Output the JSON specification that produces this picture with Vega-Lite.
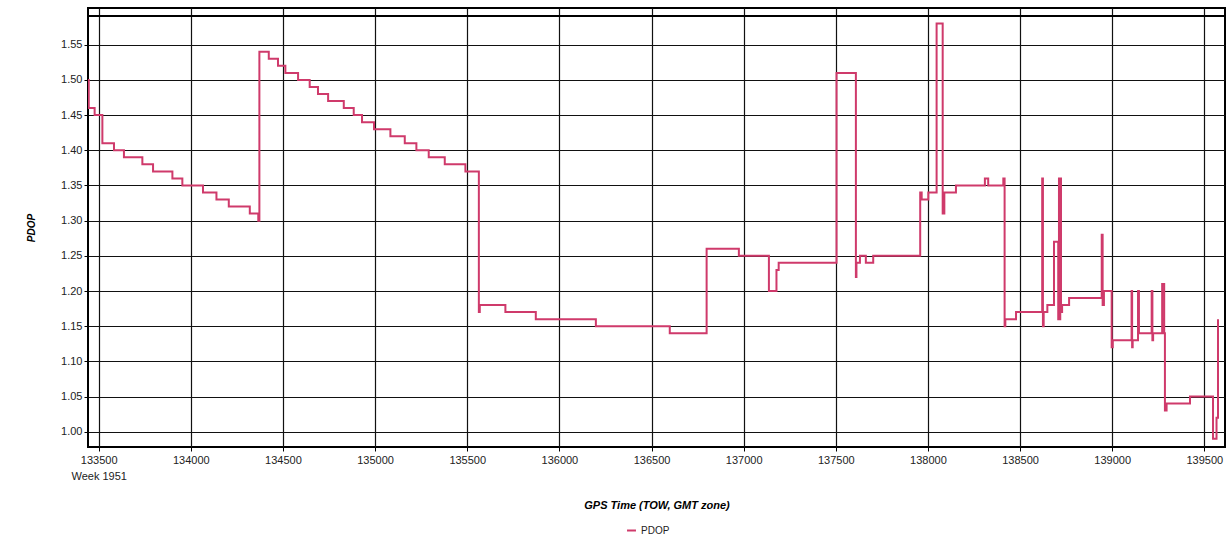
{
  "$schema": "https://vega.github.io/schema/vega-lite/v6.json",
  "width": 1137,
  "height": 439,
  "autosize": {"type": "none"},
  "padding": {"left": 88, "top": 8, "right": 7, "bottom": 95},
  "background": "white",
  "config": {
    "view": {"stroke": "#000", "strokeWidth": 2},
    "font": "Liberation Sans",
    "axisY": {
      "format": ".2f",
      "labelFontSize": 11,
      "labelColor": "#222",
      "labelPadding": 2,
      "labelOverlap": false,
      "labelFlush": false,
      "tickSize": 4,
      "tickColor": "#000",
      "domain": false,
      "grid": true,
      "gridColor": "#111",
      "gridWidth": 1.2,
      "titleFontSize": 10,
      "titleFontStyle": "italic",
      "titleFontWeight": "bold",
      "titleColor": "#000",
      "titlePadding": 24
    }
  },
  "layer": [
    {
      "data": {
        "values": [
          {"t": 133442, "pdop": 1.50, "series": "PDOP"},
          {"t": 133446, "pdop": 1.46, "series": "PDOP"},
          {"t": 133478, "pdop": 1.45, "series": "PDOP"},
          {"t": 133520, "pdop": 1.41, "series": "PDOP"},
          {"t": 133583, "pdop": 1.40, "series": "PDOP"},
          {"t": 133637, "pdop": 1.39, "series": "PDOP"},
          {"t": 133737, "pdop": 1.38, "series": "PDOP"},
          {"t": 133795, "pdop": 1.37, "series": "PDOP"},
          {"t": 133900, "pdop": 1.36, "series": "PDOP"},
          {"t": 133954, "pdop": 1.35, "series": "PDOP"},
          {"t": 134066, "pdop": 1.34, "series": "PDOP"},
          {"t": 134139, "pdop": 1.33, "series": "PDOP"},
          {"t": 134206, "pdop": 1.32, "series": "PDOP"},
          {"t": 134320, "pdop": 1.31, "series": "PDOP"},
          {"t": 134366, "pdop": 1.30, "series": "PDOP"},
          {"t": 134372, "pdop": 1.54, "series": "PDOP"},
          {"t": 134423, "pdop": 1.53, "series": "PDOP"},
          {"t": 134473, "pdop": 1.52, "series": "PDOP"},
          {"t": 134513, "pdop": 1.51, "series": "PDOP"},
          {"t": 134582, "pdop": 1.50, "series": "PDOP"},
          {"t": 134645, "pdop": 1.49, "series": "PDOP"},
          {"t": 134690, "pdop": 1.48, "series": "PDOP"},
          {"t": 134745, "pdop": 1.47, "series": "PDOP"},
          {"t": 134830, "pdop": 1.46, "series": "PDOP"},
          {"t": 134884, "pdop": 1.45, "series": "PDOP"},
          {"t": 134929, "pdop": 1.44, "series": "PDOP"},
          {"t": 134994, "pdop": 1.43, "series": "PDOP"},
          {"t": 135083, "pdop": 1.42, "series": "PDOP"},
          {"t": 135161, "pdop": 1.41, "series": "PDOP"},
          {"t": 135224, "pdop": 1.40, "series": "PDOP"},
          {"t": 135291, "pdop": 1.39, "series": "PDOP"},
          {"t": 135378, "pdop": 1.38, "series": "PDOP"},
          {"t": 135490, "pdop": 1.37, "series": "PDOP"},
          {"t": 135563, "pdop": 1.17, "series": "PDOP"},
          {"t": 135568, "pdop": 1.18, "series": "PDOP"},
          {"t": 135707, "pdop": 1.17, "series": "PDOP"},
          {"t": 135872, "pdop": 1.16, "series": "PDOP"},
          {"t": 136198, "pdop": 1.15, "series": "PDOP"},
          {"t": 136599, "pdop": 1.14, "series": "PDOP"},
          {"t": 136799, "pdop": 1.26, "series": "PDOP"},
          {"t": 136974, "pdop": 1.25, "series": "PDOP"},
          {"t": 137137, "pdop": 1.20, "series": "PDOP"},
          {"t": 137178, "pdop": 1.23, "series": "PDOP"},
          {"t": 137190, "pdop": 1.24, "series": "PDOP"},
          {"t": 137504, "pdop": 1.51, "series": "PDOP"},
          {"t": 137609, "pdop": 1.22, "series": "PDOP"},
          {"t": 137612, "pdop": 1.24, "series": "PDOP"},
          {"t": 137631, "pdop": 1.25, "series": "PDOP"},
          {"t": 137663, "pdop": 1.24, "series": "PDOP"},
          {"t": 137703, "pdop": 1.25, "series": "PDOP"},
          {"t": 137958, "pdop": 1.34, "series": "PDOP"},
          {"t": 137966, "pdop": 1.33, "series": "PDOP"},
          {"t": 138002, "pdop": 1.34, "series": "PDOP"},
          {"t": 138047, "pdop": 1.58, "series": "PDOP"},
          {"t": 138080, "pdop": 1.31, "series": "PDOP"},
          {"t": 138089, "pdop": 1.34, "series": "PDOP"},
          {"t": 138152, "pdop": 1.35, "series": "PDOP"},
          {"t": 138309, "pdop": 1.36, "series": "PDOP"},
          {"t": 138327, "pdop": 1.35, "series": "PDOP"},
          {"t": 138409, "pdop": 1.36, "series": "PDOP"},
          {"t": 138416, "pdop": 1.15, "series": "PDOP"},
          {"t": 138420, "pdop": 1.16, "series": "PDOP"},
          {"t": 138478, "pdop": 1.17, "series": "PDOP"},
          {"t": 138620, "pdop": 1.36, "series": "PDOP"},
          {"t": 138624, "pdop": 1.15, "series": "PDOP"},
          {"t": 138628, "pdop": 1.17, "series": "PDOP"},
          {"t": 138648, "pdop": 1.18, "series": "PDOP"},
          {"t": 138684, "pdop": 1.27, "series": "PDOP"},
          {"t": 138707, "pdop": 1.16, "series": "PDOP"},
          {"t": 138711, "pdop": 1.36, "series": "PDOP"},
          {"t": 138714, "pdop": 1.16, "series": "PDOP"},
          {"t": 138718, "pdop": 1.36, "series": "PDOP"},
          {"t": 138722, "pdop": 1.17, "series": "PDOP"},
          {"t": 138728, "pdop": 1.18, "series": "PDOP"},
          {"t": 138766, "pdop": 1.19, "series": "PDOP"},
          {"t": 138943, "pdop": 1.28, "series": "PDOP"},
          {"t": 138948, "pdop": 1.18, "series": "PDOP"},
          {"t": 138955, "pdop": 1.20, "series": "PDOP"},
          {"t": 138997, "pdop": 1.12, "series": "PDOP"},
          {"t": 139003, "pdop": 1.13, "series": "PDOP"},
          {"t": 139105, "pdop": 1.20, "series": "PDOP"},
          {"t": 139108, "pdop": 1.12, "series": "PDOP"},
          {"t": 139111, "pdop": 1.13, "series": "PDOP"},
          {"t": 139140, "pdop": 1.20, "series": "PDOP"},
          {"t": 139145, "pdop": 1.14, "series": "PDOP"},
          {"t": 139214, "pdop": 1.20, "series": "PDOP"},
          {"t": 139218, "pdop": 1.13, "series": "PDOP"},
          {"t": 139222, "pdop": 1.14, "series": "PDOP"},
          {"t": 139271, "pdop": 1.21, "series": "PDOP"},
          {"t": 139282, "pdop": 1.14, "series": "PDOP"},
          {"t": 139286, "pdop": 1.03, "series": "PDOP"},
          {"t": 139295, "pdop": 1.04, "series": "PDOP"},
          {"t": 139422, "pdop": 1.05, "series": "PDOP"},
          {"t": 139547, "pdop": 0.99, "series": "PDOP"},
          {"t": 139566, "pdop": 1.02, "series": "PDOP"},
          {"t": 139574, "pdop": 1.16, "series": "PDOP"}
        ]
      },
      "mark": {"type": "line", "interpolate": "step-after", "strokeWidth": 2, "clip": true},
      "encoding": {
        "x": {
          "field": "t",
          "type": "quantitative",
          "scale": {"domain": [133442, 139612], "nice": false, "zero": false},
          "axis": {
            "values": [133500, 134000, 134500, 135000, 135500, 136000, 136500, 137000, 137500, 138000, 138500, 139000, 139500],
            "labelExpr": "datum.value == 133500 ? ['133500', 'Week 1951'] : format(datum.value, 'd')",
            "labelFontSize": 11,
            "labelColor": "#222",
            "labelLineHeight": 16,
            "labelPadding": 3,
            "labelFlush": false,
            "labelOverlap": false,
            "tickSize": 4,
            "tickColor": "#000",
            "domain": false,
            "grid": true,
            "gridColor": "#111",
            "gridWidth": 1.2,
            "title": "GPS Time (TOW, GMT zone)",
            "titleFontSize": 11,
            "titleFontStyle": "italic",
            "titleFontWeight": "bold",
            "titleColor": "#000",
            "titlePadding": 18
          }
        },
        "y": {
          "field": "pdop",
          "type": "quantitative",
          "title": "PDOP",
          "scale": {"domain": [0.9783, 1.6022], "nice": false, "zero": false},
          "axis": {"values": [1.0, 1.05, 1.1, 1.15, 1.2, 1.25, 1.3, 1.35, 1.4, 1.45, 1.5, 1.55]}
        },
        "color": {
          "field": "series",
          "type": "nominal",
          "scale": {"range": ["#cf3a6b"]},
          "legend": {
            "title": null,
            "orient": "none",
            "legendX": 538,
            "legendY": 517,
            "symbolType": "stroke",
            "symbolStrokeWidth": 2,
            "symbolSize": 80,
            "labelFontSize": 10,
            "labelColor": "#222"
          }
        }
      }
    },
    {
      "data": {"values": [{"frame": 1.591}]},
      "mark": {"type": "rule", "color": "#000", "strokeWidth": 2},
      "encoding": {
        "y": {
          "field": "frame",
          "type": "quantitative",
          "title": "PDOP",
          "axis": {"values": [1.0, 1.05, 1.1, 1.15, 1.2, 1.25, 1.3, 1.35, 1.4, 1.45, 1.5, 1.55]}
        }
      }
    }
  ]
}
